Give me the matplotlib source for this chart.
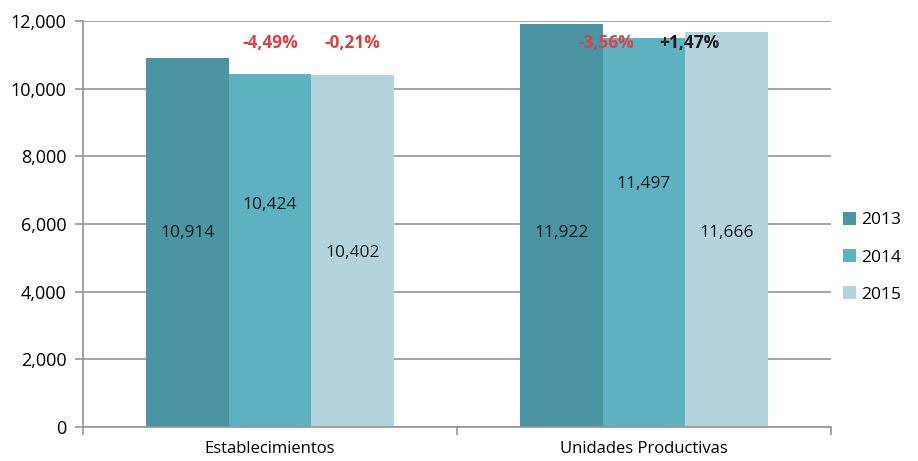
import matplotlib.pyplot as plt
import numpy as np

plt.rcParams['font.family'] = ['Open Sans', 'DejaVu Sans']

categories = ['Establecimientos', 'Unidades Productivas']
years = ['2013', '2014', '2015']
values = {
    '2013': [10914, 11922],
    '2014': [10424, 11497],
    '2015': [10402, 11666],
}
# heights at which the value labels sit inside each bar
label_y = {
    '2013': [5730, 5730],
    '2014': [6560, 7190],
    '2015': [5140, 5730],
}
# year-over-year change labels: (category index, x offset in bars, text, colour)
changes = [
    (0, 0.0, '-4,49%', '#d8424a'),
    (0, 1.0, '-0,21%', '#d8424a'),
    (1, -0.45, '-3,56%', '#d8424a'),
    (1, 0.55, '+1,47%', '#1a1a1a'),
]
colors = {'2013': '#4b95a3', '2014': '#5db1c1', '2015': '#b3d4dc'}

fig = plt.figure(figsize=(9.18, 4.61), dpi=100)
ax = fig.add_axes([0.0904, 0.074, 0.8148, 0.880])

x = np.arange(len(categories))
w = 0.221
for i, yr in enumerate(years):
    pos = x + (i - 1) * w
    ax.bar(pos, values[yr], width=w, color=colors[yr], label=yr, zorder=2)
    for p, v, ly in zip(pos, values[yr], label_y[yr]):
        ax.text(p, ly, f'{v:,}', ha='center', va='center', fontsize=12.5,
                color='#1a1a1a', zorder=3)

for ci, off, txt, col in changes:
    ax.text(x[ci] + off * w, 11350, txt, ha='center', va='center',
            fontsize=12.5, fontweight='bold', color=col, zorder=3)

ax.set_xlim(-0.5, 1.5)
ax.set_ylim(0, 12000)
ax.set_yticks(np.arange(0, 12001, 2000))
ax.set_yticklabels([f'{t:,}' for t in range(0, 12001, 2000)], fontsize=13)
ax.yaxis.grid(True, color='#959595', linewidth=1.2, zorder=0)
ax.set_axisbelow(True)

ax.set_xticks(x)
ax.set_xticklabels(categories, fontsize=12)
ax.tick_params(axis='x', length=0, pad=10)
ax.set_xticks([-0.5, 0.5, 1.5], minor=True)
ax.tick_params(axis='x', which='minor', length=6, color='#959595', width=1.2)
ax.tick_params(axis='y', length=6, color='#959595', width=1.2, pad=6)

for s in ['top', 'right']:
    ax.spines[s].set_visible(False)
for s in ['left', 'bottom']:
    ax.spines[s].set_color('#959595')
    ax.spines[s].set_linewidth(1.2)

ax.legend(loc='center left', bbox_to_anchor=(1.0, 0.418), frameon=False,
          fontsize=12.5, handlelength=0.75, handleheight=0.75, handletextpad=0.3,
          labelspacing=1.2, borderpad=0.2)

fig.savefig('out.png', dpi=100)
